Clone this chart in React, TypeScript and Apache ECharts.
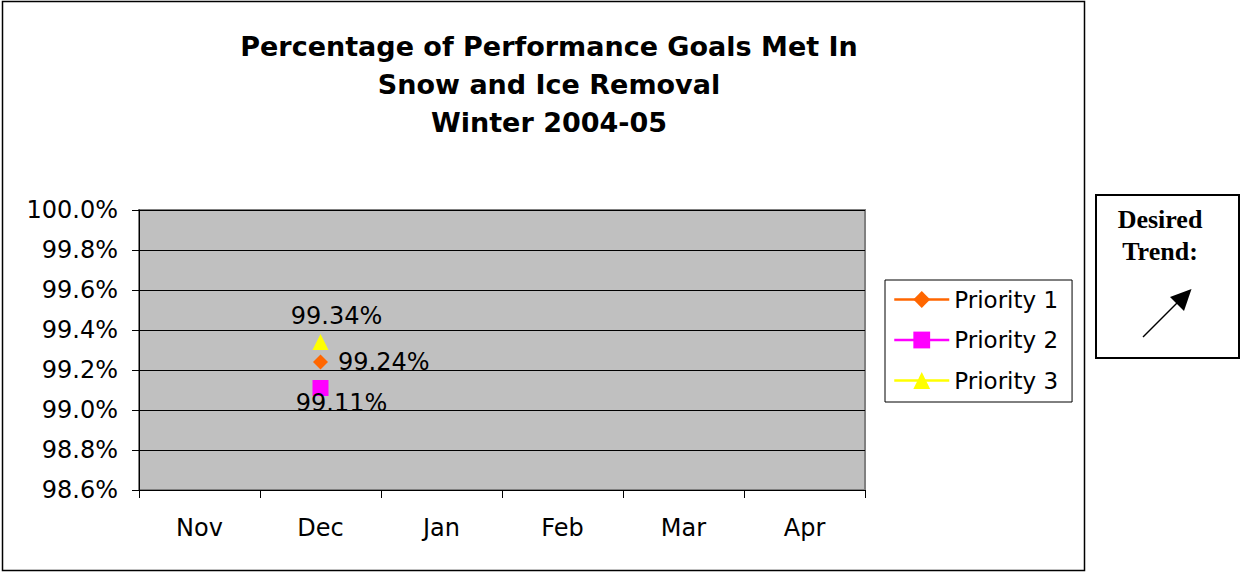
import React, { useEffect, useRef } from "react";
import * as echarts from "echarts";

const months = ["Nov", "Dec", "Jan", "Feb", "Mar", "Apr"];
const priority1 = [null, 99.24, null, null, null, null];
const priority2 = [null, 99.11, null, null, null, null];
const priority3 = [null, 99.34, null, null, null, null];
const seriesNames = ["Priority 1", "Priority 2", "Priority 3"];
const yMin = 98.6;
const yMax = 100.0;
const yStep = 0.2;
const titleText = "Percentage of Performance Goals Met In\nSnow and Ice Removal\nWinter 2004-05";

const FONT = "DejaVu Sans";

export default function App() {
  const ref = useRef<HTMLDivElement>(null);
  useEffect(() => {
    if (!ref.current) return;
    const chart = echarts.init(ref.current, undefined, { renderer: "svg" });
    const labelStyle = {
      show: true,
      fontFamily: FONT,
      fontSize: 24,
      color: "#000",
      formatter: (p: any) => Number(p.value).toFixed(2) + "%",
    };
    chart.setOption({
      animation: false,
      backgroundColor: "#fff",
      title: {
        text: titleText,
        left: 544,
        top: 22,
        textAlign: "center",
        textStyle: {
          fontFamily: FONT,
          fontWeight: "bold",
          fontSize: 27,
          lineHeight: 38,
          color: "#000",
        },
      },
      legend: {
        orient: "vertical",
        left: 885,
        top: 280,
        padding: [8, 14, 10, 8],
        itemGap: 17.5,
        itemWidth: 55,
        itemHeight: 21,
        borderColor: "#000",
        borderWidth: 1,
        backgroundColor: "#fff",
        lineStyle: { width: 2.5 },
        textStyle: { fontFamily: FONT, fontSize: 23, color: "#000" },
        data: seriesNames.map((n) => ({ name: n })),
      },
      grid: {
        left: 139,
        top: 210,
        width: 726,
        height: 280,
        show: true,
        backgroundColor: "#c0c0c0",
        borderColor: "#808080",
        borderWidth: 2,
      },
      xAxis: {
        type: "category",
        data: months,
        boundaryGap: true,
        axisLine: { lineStyle: { color: "#000", width: 1 } },
        axisTick: { show: true, length: 8, lineStyle: { color: "#000" } },
        axisLabel: { fontFamily: FONT, fontSize: 24, color: "#000", margin: 26 },
      },
      yAxis: {
        type: "value",
        min: yMin,
        max: yMax,
        interval: yStep,
        axisLine: { show: true, lineStyle: { color: "#000", width: 1 } },
        axisTick: { show: true, length: 7, lineStyle: { color: "#000" } },
        splitLine: { show: true, lineStyle: { color: "#000", width: 1 } },
        axisLabel: {
          fontFamily: FONT,
          fontSize: 24,
          color: "#000",
          margin: 21,
          formatter: (v: number) => v.toFixed(1) + "%",
        },
      },
      series: [
        {
          name: seriesNames[0],
          type: "line",
          data: priority1,
          symbol: "diamond",
          symbolSize: 15,
          itemStyle: { color: "#FF6600" },
          lineStyle: { color: "#FF6600", width: 2.5 },
          label: { ...labelStyle, position: "right", distance: 10 },
          z: 3,
        },
        {
          name: seriesNames[1],
          type: "line",
          data: priority2,
          symbol: "rect",
          symbolSize: 16,
          itemStyle: { color: "#FF00FF" },
          lineStyle: { color: "#FF00FF", width: 2.5 },
          label: { ...labelStyle, position: "bottom", distance: 0, offset: [21, -5] },
          z: 2,
        },
        {
          name: seriesNames[2],
          type: "line",
          data: priority3,
          symbol: "triangle",
          symbolSize: 16,
          itemStyle: { color: "#FFFF00" },
          lineStyle: { color: "#FFFF00", width: 2.5 },
          label: { ...labelStyle, position: "top", distance: 6, offset: [16, 0] },
          z: 4,
        },
      ],
      graphic: [
        {
          type: "rect",
          shape: { x: 2.5, y: 1.5, width: 1082, height: 569 },
          style: { fill: "none", stroke: "#000", lineWidth: 1.5 },
          silent: true,
          z: 100,
        },
        {
          type: "rect",
          shape: { x: 1096, y: 195, width: 143, height: 163 },
          style: { fill: "#fff", stroke: "#000", lineWidth: 2 },
          z: 100,
        },
        {
          type: "text",
          x: 1160,
          y: 203,
          style: {
            text: "Desired\nTrend:",
            fontFamily: "Liberation Serif",
            fontWeight: "bold",
            fontSize: 26,
            lineHeight: 32,
            fill: "#000",
            align: "center",
            verticalAlign: "top",
          },
          z: 101,
        },
        {
          type: "line",
          shape: { x1: 1143, y1: 337, x2: 1179, y2: 301 },
          style: { stroke: "#000", lineWidth: 1.5 },
          z: 101,
        },
        {
          type: "polygon",
          shape: { points: [[1191.5, 289], [1170, 297], [1184, 311]] },
          style: { fill: "#000" },
          z: 101,
        },
      ],
    });
    return () => chart.dispose();
  }, []);
  return (
    <div
      ref={ref}
      style={{ position: "absolute", left: 0, top: 0, width: 1241, height: 573, background: "#fff" }}
    />
  );
}
